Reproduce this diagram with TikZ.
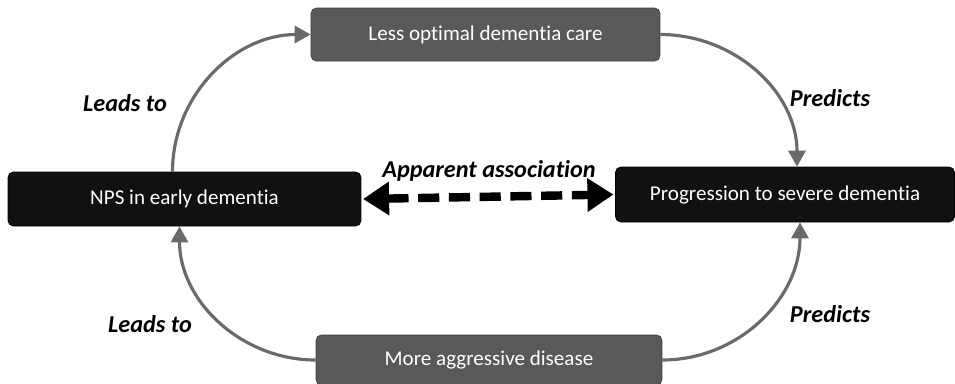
\documentclass[tikz,border=0pt]{standalone}
\usepackage{fontspec}
\setmainfont{Carlito}[Ligatures=NoCommon]
\definecolor{npsdark}{HTML}{111111}
\definecolor{npsgray}{HTML}{595959}
\definecolor{npsline}{HTML}{6A6A6A}
\usetikzlibrary{arrows.meta,positioning}

\begin{document}
\begin{tikzpicture}[x=0.02cm,y=-0.02cm,
  font=\fontsize{12}{14}\selectfont,
  darkbox/.style={draw=black,fill=npsdark,text=white,rounded corners=3pt,inner sep=0pt,align=center},
  graybox/.style={draw=npsgray!70!black,fill=npsgray,text=white,rounded corners=3pt,inner sep=0pt,align=center},
  lab/.style={font=\fontsize{13.8}{16}\selectfont\bfseries\itshape},
  ar/.style={-{Triangle[length=3.2mm,width=3.4mm]},npsline,line width=1.8pt},
  assoc/.style={{Triangle[length=5.2mm,width=6.4mm]}-{Triangle[length=5.2mm,width=6.4mm]},black,line width=4.8pt,dash pattern=on 12pt off 5.5pt}]
\useasboundingbox (0,0) rectangle (955,383);
\node[graybox,minimum width=6.98cm,minimum height=1.06cm] (care) at (485.5,34.5) {Less optimal dementia care};
\node[darkbox,minimum width=7.06cm,minimum height=1.08cm] (nps) at (184.5,199) {NPS in early dementia};
\node[darkbox,minimum width=6.78cm,minimum height=1.1cm] (prog) at (785,194.5) {Progression to severe dementia};
\node[graybox,minimum width=6.92cm,minimum height=1.0cm] (aggr) at (489,360) {More aggressive disease};
% causal paths
\draw[ar] ([xshift=-0.24cm]nps.north) to[out=90,in=180] (care.west);
\draw[ar] (care.east) to[out=0,in=90] ([xshift=0.24cm]prog.north);
\draw[ar] (aggr.west) to[out=180,in=-90] ([xshift=-0.1cm]nps.south);
\draw[ar] (aggr.east) to[out=0,in=-90] ([xshift=0.3cm]prog.south);
% apparent association
\draw[assoc] ([xshift=1pt]nps.east) -- ([xshift=-1pt]prog.west);
\node[lab] (alab) at (489,171) {Apparent association};
\node[lab] (lead1) at (125,103) {Leads to};
\node[lab] (pred1) at (830,98) {Predicts};
\node[lab] (lead2) at (150,324) {Leads to};
\node[lab] (pred2) at (830,314) {Predicts};
\end{tikzpicture}
\end{document}
